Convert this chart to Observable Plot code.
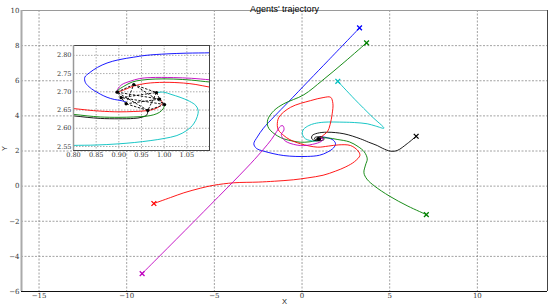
<!DOCTYPE html>
<html><head><meta charset="utf-8">
<script src="https://cdn.jsdelivr.net/npm/d3@7"></script>
<script src="https://cdn.jsdelivr.net/npm/@observablehq/plot@0.6"></script>
<style>
html,body{margin:0;padding:0;background:#fff;}
#wrap{position:relative;width:548px;height:308px;overflow:hidden;}
</style></head>
<body><div id="wrap"></div>
<script>
// ---------- data (main view) ----------
const titleText = "Agents' trajectory";
const xTicks = [-15, -10, -5, 0, 5, 10];
const yTicks = [-6, -4, -2, 0, 2, 4, 6, 8, 10];
const blue = [[3.28,9.01],[1.5,7.16],[0.39,6.01],[-0.8,4.77],[-1.57,3.98],[-2.2,3.3],[-2.55,2.8],[-2.75,2.41],[-2.6,2.15],[-2.18,1.99],[-1.04,1.74],[0.30,1.69],[1.0,1.76],[1.44,1.93],[1.8,2.18],[1.91,2.41],[1.78,2.62],[1.45,2.75],[1.15,2.8],[0.95,2.72]];
const green1 = [[3.68,8.16],[2.4,7.05],[1.15,6.01],[0.1,5.2],[-1.04,4.69],[-1.6,4.3],[-1.95,3.8],[-1.95,3.4],[-1.78,3.15],[-1.4,2.86],[-1.04,2.69],[-0.5,2.56],[-0.08,2.5],[0.4,2.52],[0.8,2.6],[0.97,2.66]];
const cyan = [[2.04,5.97],[3.0,4.95],[4.0,3.95],[4.67,3.3],[4.2,3.42],[3.72,3.55],[3.0,3.62],[2.39,3.64],[1.25,3.64],[0.7,3.56],[0.39,3.45],[0.1,3.25],[0.01,3.05],[0.06,2.85],[0.2,2.69],[0.45,2.6],[0.67,2.56],[0.9,2.6],[0.98,2.69]];
const black = [[6.51,2.84],[6.0,2.42],[5.43,2.03],[5.05,1.99],[4.6,2.15],[4.29,2.31],[3.8,2.5],[3.34,2.69],[2.39,2.98],[1.44,3.07],[0.87,3.01],[0.58,2.88],[0.55,2.72],[0.7,2.6],[1.0,2.58],[1.25,2.65],[1.2,2.78],[0.95,2.82],[0.72,2.75],[0.75,2.64],[0.96,2.65]];
const green2 = [[7.09,-1.62],[6.04,-1.14],[4.99,-0.57],[4.14,0.0],[3.7,0.4],[3.53,0.76],[3.62,1.2],[3.72,1.55],[3.55,1.95],[3.2,2.25],[2.7,2.52],[2.0,2.66],[1.5,2.74],[1.15,2.74],[1.0,2.67]];
const red = [[-8.45,-0.99],[-7.5,-0.65],[-6.74,-0.38],[-5.8,-0.12],[-5.03,0.05],[-3.89,0.19],[-2.5,0.23],[-1.57,0.28],[-0.5,0.36],[0.33,0.47],[1.2,0.62],[1.9,0.85],[2.5,1.1],[3.0,1.4],[3.3,1.75],[3.2,2.0],[2.77,2.31],[2.1,2.35],[1.5,2.28],[0.87,2.22],[-0.08,2.41],[-0.7,2.65],[-1.04,2.88],[-1.35,3.2],[-1.41,3.45],[-1.32,3.92],[-0.65,4.49],[0.49,4.87],[1.2,5.04],[1.63,5.06],[1.76,4.7],[1.72,4.12],[1.6,3.5],[1.45,3.1],[1.15,2.85],[0.99,2.68]];
const magenta = [[-9.12,-4.98],[-6.0,-1.85],[-2.94,1.27],[-2.2,2.1],[-1.75,2.65],[-1.45,3.1],[-1.22,3.42],[-1.08,3.43],[-1.03,3.2],[-1.18,2.95],[-1.08,2.7],[-0.84,2.5],[-0.08,2.31],[0.6,2.38],[1.1,2.55],[1.2,2.7],[0.9,2.7]];
// final formation (agent positions), listed around the ring
const agentsX = [0.896, 0.933, 0.983, 0.990, 1.001, 0.964, 0.916, 0.905];
const agentsY = [2.699, 2.720, 2.698, 2.680, 2.665, 2.649, 2.667, 2.684];

// ---------- data (zoomed inset) ----------
const inXTicks = [0.80, 0.85, 0.90, 0.95, 1.00, 1.05];
const inYTicks = [2.55, 2.60, 2.65, 2.70, 2.75, 2.80];
const blueIn = [[1.12,2.808],[1.10,2.807],[1.05,2.806],[1.006,2.804],[0.96,2.800],[0.933,2.795],[0.90,2.788],[0.874,2.779],[0.853,2.767],[0.835,2.752],[0.825,2.740],[0.826,2.726],[0.834,2.714],[0.846,2.703],[0.860,2.693],[0.874,2.685],[0.890,2.679],[0.905,2.676],[0.916,2.672]];
const cyanIn = [[0.78,2.552],[0.80,2.553],[0.85,2.554],[0.896,2.557],[0.935,2.561],[0.969,2.566],[1.00,2.572],[1.028,2.580],[1.050,2.594],[1.065,2.612],[1.073,2.632],[1.075,2.649],[1.070,2.662],[1.056,2.674],[1.035,2.685],[1.015,2.693],[0.999,2.699],[0.983,2.698]];
const redInTop = [[1.12,2.710],[1.10,2.713],[1.07,2.720],[1.043,2.724],[1.00,2.726],[0.96,2.723],[0.933,2.716],[0.913,2.706],[0.898,2.699]];
const redInBot = [[0.78,2.655],[0.80,2.654],[0.83,2.650],[0.859,2.647],[0.90,2.645],[0.933,2.646],[0.96,2.648],[0.977,2.652],[0.990,2.660],[0.996,2.670],[0.990,2.680]];
const greenInTop = [[1.12,2.726],[1.10,2.727],[1.06,2.732],[1.02,2.735],[0.98,2.735],[0.95,2.732],[0.93,2.727],[0.911,2.715],[0.898,2.704],[0.896,2.699]];
const magentaInTop = [[1.12,2.731],[1.10,2.733],[1.06,2.737],[1.021,2.739],[0.969,2.739],[0.945,2.736],[0.925,2.729],[0.907,2.720],[0.898,2.708],[0.896,2.699]];
const greenInBot = [[0.78,2.639],[0.80,2.638],[0.83,2.634],[0.859,2.631],[0.90,2.630],[0.933,2.631],[0.96,2.633],[0.977,2.637],[0.990,2.644],[0.998,2.654],[1.001,2.665]];
const blackInBot = [[0.78,2.635],[0.80,2.634],[0.83,2.630],[0.859,2.627],[0.90,2.626],[0.933,2.627],[0.95,2.630],[0.962,2.637],[0.964,2.649]];

// ---------- styling ----------
const C = {b:"#0000ff", g:"#008000", r:"#ff0000", c:"#00bfbf", m:"#bf00bf", k:"#000000"};
const serif = "'DejaVu Serif', 'Liberation Serif', serif";
const sans = "'Liberation Sans', Arial, sans-serif";
const agents = agentsX.map((x, i) => [x, agentsY[i]]);
const n = agents.length;
const links = [];
for (let i = 0; i < n; i++) for (const s of [1, 3]) {
  const j = (i + s) % n;
  links.push({x1: agents[i][0], y1: agents[i][1], x2: agents[j][0], y2: agents[j][1]});
}

const trajectories = [[blue, C.b], [green1, C.g], [cyan, C.c], [black, C.k], [green2, C.g], [red, C.r], [magenta, C.m]];
const starts = trajectories.map(([p, col]) => ({x: p[0][0], y: p[0][1], col}));
const grid = {stroke: "#8a8a8a", strokeOpacity: 1, strokeWidth: 0.8, strokeDasharray: "2,1.5"};

const main = Plot.plot({
  width: 548, height: 308,
  marginLeft: 21, marginRight: 1, marginTop: 10, marginBottom: 17,
  x: {domain: [-16, 14]},
  y: {domain: [-6, 10]},
  style: {fontFamily: serif, fontSize: "7px", background: "white", color: "#333", overflow: "visible"},
  marks: [
    Plot.gridX(xTicks, grid),
    Plot.gridY(yTicks, grid),
    ...trajectories.map(([p, col]) => Plot.line(p, {stroke: col, strokeWidth: 0.9, curve: "catmull-rom"})),
    Plot.dot(starts, {x: "x", y: "y", stroke: "col", symbol: "times", r: 2.3, strokeWidth: 1.3}),
    Plot.dot(agents, {r: 1.3, fill: "black"}),
    Plot.axisX(xTicks, {tickSize: 0, tickPadding: 2, label: null, fontFamily: serif, fontSize: 7, fill: "#333"}),
    Plot.axisY(yTicks, {tickSize: 0, tickPadding: 2, label: null, fontFamily: serif, fontSize: 7, fill: "#333"}),
    Plot.ruleY([10], {stroke: "#9a9a9a", strokeWidth: 1}),
    Plot.ruleX([14], {stroke: "#444", strokeWidth: 1}),
    Plot.ruleY([-6], {stroke: "#111", strokeWidth: 1.2}),
    Plot.ruleX([-16], {stroke: "#aaaaaa", strokeWidth: 2}),
    Plot.text([titleText], {frameAnchor: "top", dy: -5, fontFamily: sans, fontSize: 9, fill: "black"}),
    Plot.text(["X"], {frameAnchor: "bottom", dy: 12, fontFamily: sans, fontSize: 7.5, fill: "#222"}),
    Plot.text(["Y"], {frameAnchor: "left", dx: -17, rotate: -90, fontFamily: sans, fontSize: 7.5, fill: "#222"})
  ]
});
document.getElementById("wrap").append(main);

const inGrid = {stroke: "#8a8a8a", strokeOpacity: 1, strokeWidth: 0.7, strokeDasharray: "1.5,1.5"};
const insetLines = [[blueIn, C.b], [cyanIn, C.c], [redInBot, C.r], [redInTop, C.r], [blackInBot, C.k], [greenInBot, C.g], [magentaInTop, C.m], [greenInTop, C.g]];
const inW = 136 + 26 + 2, inH = 105 + 2 + 12;
const inset = Plot.plot({
  width: inW, height: inH,
  marginLeft: 26, marginRight: 2, marginTop: 2, marginBottom: 12,
  x: {domain: [0.80, 1.10]},
  y: {domain: [2.539, 2.827]},
  style: {fontFamily: serif, fontSize: "6.5px", background: "transparent", color: "#333", overflow: "visible"},
  marks: [
    Plot.frame({fill: "white", stroke: null}),
    Plot.gridX(inXTicks, inGrid),
    Plot.gridY(inYTicks, inGrid),
    ...insetLines.map(([p, col]) => Plot.line(p, {stroke: col, strokeWidth: 0.9, curve: "catmull-rom", clip: true})),
    Plot.link(links, {x1: "x1", y1: "y1", x2: "x2", y2: "y2", stroke: "black", strokeWidth: 0.9, strokeDasharray: "2.5,1.5"}),
    Plot.dot(agents, {r: 1.6, fill: "black"}),
    Plot.axisX(inXTicks, {tickSize: 0, tickPadding: 2, label: null, tickFormat: d3.format(".2f"), fontFamily: serif, fontSize: 6.5, fill: "#333"}),
    Plot.axisY(inYTicks, {tickSize: 0, tickPadding: 2, label: null, tickFormat: d3.format(".2f"), fontFamily: serif, fontSize: 6.5, fill: "#333"}),
    Plot.frame({stroke: "#444", strokeWidth: 1}),
    Plot.ruleX([0.80], {stroke: "#999", strokeWidth: 1.5})
  ]
});
// nest the inset inside the main SVG so both share one opaque drawing surface
inset.setAttribute("x", 47);
inset.setAttribute("y", 43);
inset.style.width = inW + "px";
inset.style.height = inH + "px";
inset.style.maxWidth = "none";
main.append(inset);
</script></body></html>
